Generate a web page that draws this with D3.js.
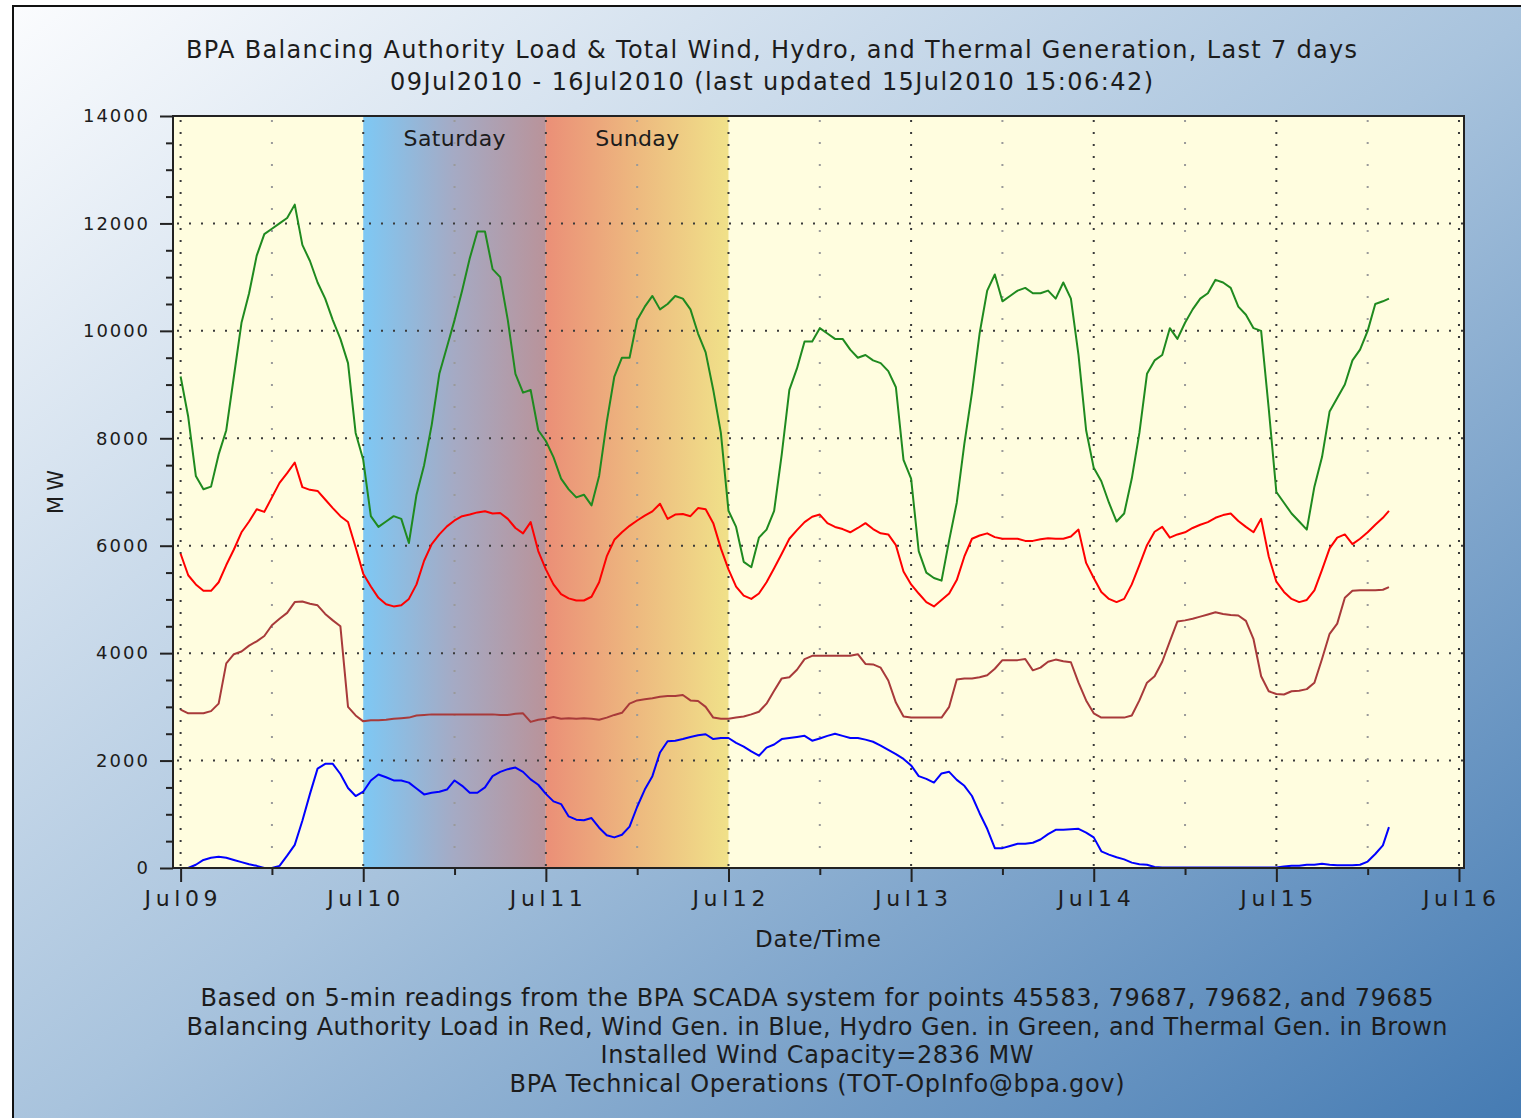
<!DOCTYPE html>
<html>
<head>
<meta charset="utf-8">
<script src="https://cdn.jsdelivr.net/npm/d3@7"></script>
<style>
body { margin: 0; background: #fff; }
text { font-family: "DejaVu Sans", sans-serif; fill: #1c1c1c; }
</style>
</head>
<body>
<svg id="chart" width="1521" height="1118"></svg>
<script>
// tick labels and categories
var dayLabels = ["Jul09", "Jul10", "Jul11", "Jul12", "Jul13", "Jul14", "Jul15", "Jul16"];
var dayHours = [0, 24, 48, 72, 96, 120, 144, 168];
var halfDayHours = [12, 36, 60, 84, 108, 132, 156];
var yTicks = [0, 2000, 4000, 6000, 8000, 10000, 12000, 14000];
var gridValues = [2000, 4000, 6000, 8000, 10000, 12000];
var weekend = [
    {name: "Saturday", start: 24, end: 48},
    {name: "Sunday", start: 48, end: 72}
];

// hourly readings, Jul09 00:00 onwards, last value at the last update (hour 158.8)
var lastHour = 158.8;

var hydro = [9150,8400,7300,7050,7100,7700,8150,9150,10150,10700,
    11400,11800,11900,12000,12100,12350,11600,11300,10900,10600,
    10200,9850,9400,8100,7600,6550,6350,6450,6550,6500,
    6050,6950,7500,8250,9200,9700,10200,10750,11350,11850,
    11850,11150,11000,10200,9200,8850,8900,8150,7950,7650,
    7250,7050,6900,6950,6750,7300,8300,9150,9500,9500,
    10200,10450,10650,10400,10500,10650,10600,10400,9950,9600,
    8900,8100,6650,6350,5700,5600,6150,6300,6650,7700,
    8900,9300,9800,9800,10050,9950,9850,9850,9650,9500,
    9550,9450,9400,9250,8950,7600,7250,5900,5500,5400,
    5350,6100,6800,7900,8850,9950,10750,11050,10550,10650,
    10750,10800,10700,10700,10750,10600,10900,10600,9550,8150,
    7450,7200,6800,6450,6600,7250,8100,9200,9450,9550,
    10050,9850,10150,10400,10600,10700,10950,10900,10800,10450,
    10300,10050,10000,8550,7000,6800,6600,6450,6300,7100,
    7650,8500,8750,9000,9450,9650,10000,10500,10550,
    10600];

var load = [5850,5450,5280,5160,5160,5320,5640,5930,6250,6450,
    6680,6630,6900,7170,7350,7550,7090,7040,7020,6860,
    6700,6550,6440,5970,5480,5240,5030,4910,4870,4890,
    5010,5280,5720,6030,6210,6360,6470,6550,6580,6620,
    6640,6600,6610,6500,6330,6230,6440,5900,5560,5280,
    5100,5020,4980,4980,5050,5320,5800,6110,6250,6370,
    6470,6560,6640,6780,6500,6580,6590,6550,6700,6680,
    6420,5950,5560,5240,5070,5010,5110,5320,5580,5850,
    6130,6290,6440,6540,6580,6420,6350,6310,6250,6330,
    6420,6310,6230,6210,6010,5520,5280,5110,4950,4870,
    4990,5110,5360,5800,6130,6190,6230,6160,6130,6130,
    6130,6090,6090,6120,6140,6130,6130,6170,6300,5680,
    5400,5140,5010,4950,5010,5280,5640,6010,6260,6350,
    6150,6210,6250,6330,6390,6440,6520,6570,6600,6460,
    6350,6250,6500,5800,5330,5140,5010,4950,4990,5170,
    5550,5950,6150,6210,6030,6130,6250,6390,6520,
    6650];

var thermal = [2950,2880,2880,2880,2920,3060,3810,3980,4030,4140,
    4220,4320,4520,4640,4750,4950,4960,4920,4890,4730,
    4610,4500,3000,2840,2730,2750,2750,2760,2780,2790,
    2800,2840,2850,2860,2860,2860,2860,2860,2860,2860,
    2860,2860,2850,2850,2870,2880,2720,2760,2780,2810,
    2780,2790,2780,2790,2780,2760,2800,2850,2890,3060,
    3120,3140,3160,3190,3200,3200,3220,3120,3110,3000,
    2800,2780,2780,2800,2820,2860,2910,3060,3300,3530,
    3550,3690,3890,3950,3950,3950,3950,3950,3950,3980,
    3800,3790,3730,3490,3080,2820,2800,2800,2800,2800,
    2800,3000,3510,3530,3530,3550,3590,3710,3870,3870,
    3870,3890,3680,3730,3840,3880,3850,3830,3450,3120,
    2880,2800,2800,2800,2800,2840,3120,3450,3570,3840,
    4220,4590,4610,4640,4680,4720,4760,4730,4710,4700,
    4600,4260,3570,3290,3240,3230,3290,3300,3330,3450,
    3890,4360,4550,5030,5160,5170,5170,5170,5180,
    5230];

var wind = [0,0,60,150,190,210,190,150,110,70,
    40,0,0,40,230,430,880,1380,1850,1940,
    1940,1750,1490,1340,1420,1630,1740,1690,1630,1630,
    1590,1480,1370,1400,1420,1460,1630,1530,1400,1400,
    1500,1710,1790,1840,1870,1790,1650,1550,1380,1240,
    1190,960,900,890,930,750,610,570,620,770,
    1140,1460,1710,2150,2360,2370,2400,2440,2470,2490,
    2400,2420,2420,2330,2260,2170,2090,2240,2300,2400,
    2420,2440,2460,2370,2410,2460,2500,2460,2420,2420,
    2390,2350,2280,2200,2120,2030,1910,1710,1660,1590,
    1760,1790,1640,1530,1340,1020,730,370,370,410,
    450,450,470,530,630,710,710,720,730,660,
    570,310,250,200,160,100,70,60,20,10,
    10,10,10,10,10,10,10,10,10,10,
    10,10,10,10,10,30,40,40,60,60,
    80,60,50,50,50,60,120,260,420,
    760];

var hours = d3.range(hydro.length - 1).concat([lastHour]);

var titleLines = [
    "BPA Balancing Authority Load & Total Wind, Hydro, and Thermal Generation, Last 7 days",
    "09Jul2010 - 16Jul2010 (last updated 15Jul2010 15:06:42)"
];
var footerLines = [
    "Based on 5-min readings from the BPA SCADA system for points 45583, 79687, 79682, and 79685",
    "Balancing Authority Load in Red, Wind Gen. in Blue, Hydro Gen. in Green, and Thermal Gen. in Brown",
    "Installed Wind Capacity=2836 MW",
    "BPA Technical Operations (TOT-OpInfo@bpa.gov)"
];

var svg = d3.select("#chart");
var defs = svg.append("defs");

function gradient(id, stops, x2, y2) {
    var g = defs.append("linearGradient").attr("id", id)
        .attr("x1", 0).attr("y1", 0).attr("x2", x2).attr("y2", y2);
    stops.forEach(function (s) {
        g.append("stop").attr("offset", s[0]).attr("stop-color", s[1]);
    });
}
gradient("panelGrad", [[0, "#fbfcfe"], [0.5, "#a8c3dd"], [1, "#4178b1"]], 1, 1);
gradient("satGrad", [[0, "#7ec8f4"], [0.5, "#a5aac4"], [1, "#b9939a"]], 1, 0);
gradient("sunGrad", [[0, "#eb8f77"], [0.5, "#edb97f"], [1, "#f0e189"]], 1, 0);

// outer panel (runs off the right and bottom of the picture)
svg.append("rect")
    .attr("x", 13).attr("y", 6).attr("width", 1530).attr("height", 1140)
    .attr("fill", "url(#panelGrad)")
    .attr("stroke", "#111").attr("stroke-width", 2);

var x = d3.scaleLinear().domain([-1, 168.66]).range([173, 1464]);
var y = d3.scaleLinear().domain([0, 14000]).range([868, 116]);

// plot background
svg.append("rect")
    .attr("x", x.range()[0]).attr("y", y.range()[1])
    .attr("width", x.range()[1] - x.range()[0])
    .attr("height", y.range()[0] - y.range()[1])
    .attr("fill", "#fffddf");

// weekend bands
svg.selectAll("rect.band").data(weekend).enter().append("rect")
    .attr("class", "band")
    .attr("x", function (d) { return x(d.start); })
    .attr("y", y.range()[1])
    .attr("width", function (d) { return x(d.end) - x(d.start); })
    .attr("height", y.range()[0] - y.range()[1])
    .attr("fill", function (d, i) { return i === 0 ? "url(#satGrad)" : "url(#sunGrad)"; });

svg.selectAll("text.band").data(weekend).enter().append("text")
    .attr("class", "band")
    .attr("x", function (d) { return (x(d.start) + x(d.end)) / 2; })
    .attr("y", 146)
    .attr("text-anchor", "middle")
    .attr("font-size", 22)
    .attr("textLength", function (d) { return d.name === "Saturday" ? 102 : 84; })
    .text(function (d) { return d.name; });

// dotted grid
var grid = svg.append("g");
grid.selectAll("line.h").data(gridValues).enter().append("line")
    .attr("x1", x.range()[0] + 4).attr("x2", x.range()[1])
    .attr("y1", function (d) { return y(d); }).attr("y2", function (d) { return y(d); })
    .attr("stroke", "#3a3a3a").attr("stroke-width", 2).attr("stroke-dasharray", "2,10");
grid.selectAll("line.d").data(dayHours).enter().append("line")
    .attr("x1", function (d) { return x(d); }).attr("x2", function (d) { return x(d); })
    .attr("y1", y.range()[1] + 4).attr("y2", y.range()[0])
    .attr("stroke", "#3a3a3a").attr("stroke-width", 2).attr("stroke-dasharray", "2,10");
grid.selectAll("line.m").data(halfDayHours).enter().append("line")
    .attr("x1", function (d) { return x(d); }).attr("x2", function (d) { return x(d); })
    .attr("y1", y.range()[1] + 4).attr("y2", y.range()[0])
    .attr("stroke", "#9a9a9a").attr("stroke-width", 2).attr("stroke-dasharray", "2,20");

// data lines
var line = d3.line()
    .x(function (d, i) { return x(hours[i]); })
    .y(function (d) { return y(d); });

var series = [
    {values: hydro, color: "#1f8a1f"},
    {values: load, color: "#ff0000"},
    {values: thermal, color: "#a83a3a"},
    {values: wind, color: "#0000ff"}
];
svg.selectAll("path.series").data(series).enter().append("path")
    .attr("class", "series")
    .attr("d", function (d) { return line(d.values); })
    .attr("fill", "none")
    .attr("stroke", function (d) { return d.color; })
    .attr("stroke-width", 2)
    .attr("stroke-linejoin", "round");

// frame
svg.append("rect")
    .attr("x", x.range()[0]).attr("y", y.range()[1])
    .attr("width", x.range()[1] - x.range()[0])
    .attr("height", y.range()[0] - y.range()[1])
    .attr("fill", "none").attr("stroke", "#222").attr("stroke-width", 2);

// axes
var yMinor = d3.range(500, 14000, 500).filter(function (v) { return v % 2000 !== 0; });
var xMinor = halfDayHours;

var yAxisG = svg.append("g").attr("transform", "translate(" + x.range()[0] + ",0)")
    .call(d3.axisLeft(y).tickValues(yTicks).tickSize(13).tickPadding(12).tickFormat(d3.format("d")));
svg.append("g").attr("transform", "translate(" + x.range()[0] + ",0)")
    .call(d3.axisLeft(y).tickValues(yMinor).tickSize(7).tickFormat(""));

var xAxisG = svg.append("g").attr("transform", "translate(0," + y.range()[0] + ")")
    .call(d3.axisBottom(x).tickValues(dayHours).tickSize(14).tickPadding(8)
        .tickFormat(function (d, i) { return dayLabels[i]; }));
svg.append("g").attr("transform", "translate(0," + y.range()[0] + ")")
    .call(d3.axisBottom(x).tickValues(xMinor).tickSize(7).tickFormat(""));

svg.selectAll(".domain").remove();
svg.selectAll(".tick line").attr("stroke", "#222").attr("stroke-width", 2);

yAxisG.selectAll("text")
    .attr("font-family", "DejaVu Sans Mono, monospace")
    .attr("font-size", 18)
    .attr("fill", "#1c1c1c")
    .attr("textLength", function (d) { return String(d).length > 1 ? String(d).length * 13 : null; });
xAxisG.selectAll("text")
    .attr("font-family", "DejaVu Sans Mono, monospace")
    .attr("font-size", 22)
    .attr("fill", "#1c1c1c")
    .attr("textLength", 73);

// titles and labels
var titleWidths = [1171, 763];
svg.selectAll("text.title").data(titleLines).enter().append("text")
    .attr("class", "title")
    .attr("x", 771.5)
    .attr("y", function (d, i) { return 58 + i * 32; })
    .attr("text-anchor", "middle")
    .attr("font-size", 24)
    .attr("textLength", function (d, i) { return titleWidths[i]; })
    .text(function (d) { return d; });

var footerWidths = [1233, 1261, 433, 615];
svg.selectAll("text.footer").data(footerLines).enter().append("text")
    .attr("class", "footer")
    .attr("x", 817)
    .attr("y", function (d, i) { return 1006 + i * 28.7; })
    .attr("text-anchor", "middle")
    .attr("font-size", 24)
    .attr("textLength", function (d, i) { return footerWidths[i]; })
    .text(function (d) { return d; });

svg.append("text")
    .attr("x", 818).attr("y", 947)
    .attr("text-anchor", "middle")
    .attr("font-size", 23)
    .attr("textLength", 126)
    .text("Date/Time");

svg.append("text")
    .attr("transform", "translate(63,492) rotate(-90)")
    .attr("text-anchor", "middle")
    .attr("font-size", 21)
    .attr("textLength", 44)
    .text("MW");
</script>
</body>
</html>
